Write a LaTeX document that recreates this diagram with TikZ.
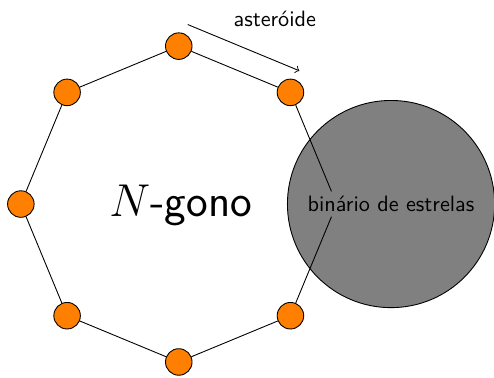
\documentclass[tikz,border=0pt]{standalone}
\usepackage{tikz}
\usetikzlibrary{positioning}

\begin{document}
\begin{tikzpicture}[>=to,font=\sffamily]
  \tikzstyle{vert}=[circle,draw,fill=orange,minimum size=4.2mm,inner sep=0pt]
  \tikzstyle{hidvert}=[circle,minimum size=4.2mm,inner sep=0pt]
  \tikzstyle{star}=[circle,draw,fill=gray,minimum size=32.8mm,inner sep=0pt]
  \useasboundingbox (-2.83,-2.74) rectangle (4.99,3.23);
  % vertices of the polygon
  \node[hidvert] (v0) at (0:2.5) {};
  \foreach \i in {1,...,7}
    \node[vert] (v\i) at (\i*45:2.5) {};
  \node[star] (bin) at (3.36,0) {binário de estrelas};
  \node (ngono) at (0.03,-0.02) {\huge $N$-gono};
  % edges
  \draw (v0)--(v1)--(v2)--(v3)--(v4)--(v5)--(v6)--(v7)--(v0);
  % asteroid path
  \draw[->] ([shift={(67.5:0.37)}]v2.center) -- ([shift={(67.5:0.37)}]v1.center);
  \node (ast) at (1.52,2.93) {asteróide};
\end{tikzpicture}
\end{document}
